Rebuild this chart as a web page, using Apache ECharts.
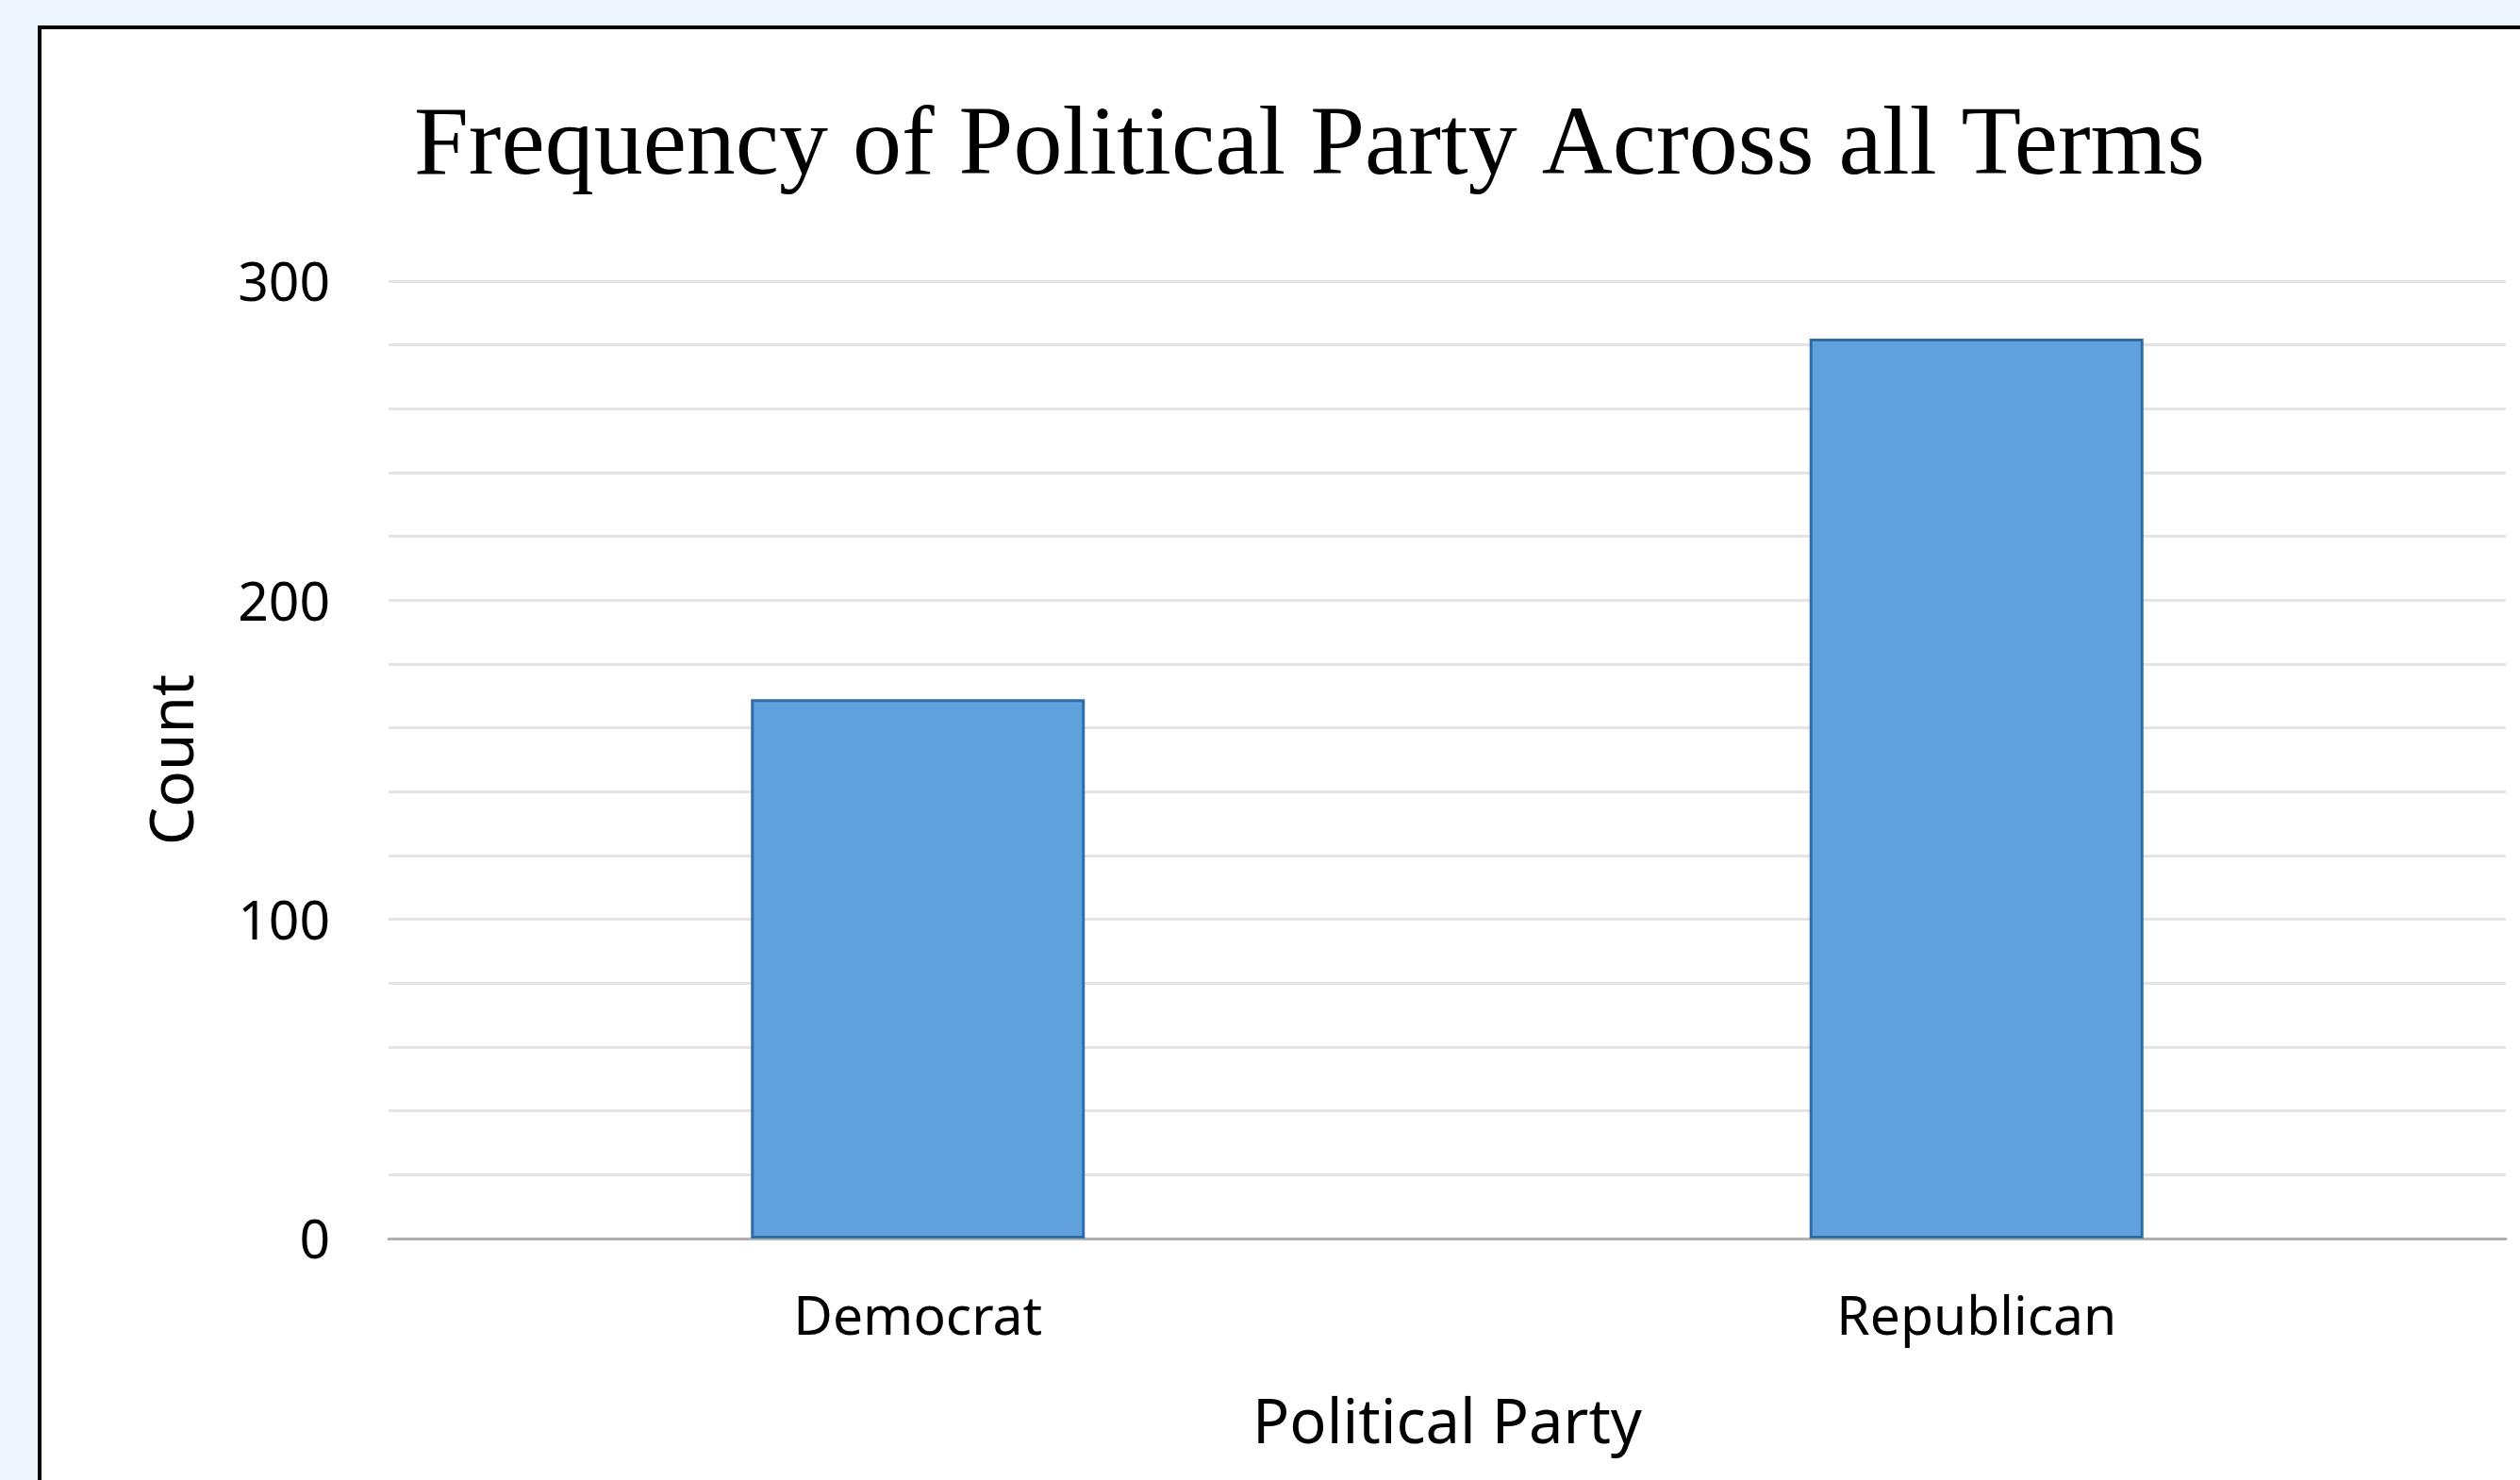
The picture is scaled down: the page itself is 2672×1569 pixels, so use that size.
<!DOCTYPE html>
<html>
<head>
<meta charset="utf-8">
<script src="https://cdn.jsdelivr.net/npm/echarts@6/dist/echarts.min.js"></script>
<style>
  html, body { margin: 0; padding: 0; width: 2672px; height: 1569px; overflow: hidden; background: #eef6fd; }
  #box { position: absolute; left: 40px; top: 27px; width: 2700px; height: 1600px; background: #ffffff; border: 4px solid #000000; box-sizing: border-box; }
  #chart { position: absolute; left: 0; top: 0; width: 2672px; height: 1569px; }
</style>
</head>
<body>
<div id="box"></div>
<div id="chart"></div>
<script>
const categories = ['Democrat', 'Republican'];
const counts = [169, 282];
const yTickLabels = ['0', '100', '200', '300'];
const titleText = 'Frequency of Political Party Across all Terms';
const xAxisTitle = 'Political Party';
const yAxisTitle = 'Count';

const chart = echarts.init(document.getElementById('chart'), null, { renderer: 'canvas' });
chart.setOption({
  backgroundColor: 'transparent',
  animation: false,
  title: {
    text: titleText,
    left: 434,
    top: 100,
    textStyle: { fontFamily: 'Liberation Serif', fontWeight: 'normal', fontSize: 104, color: '#000000' }
  },
  grid: { left: 412, right: 15, top: 298, bottom: 256, containLabel: false },
  xAxis: {
    type: 'category',
    data: categories,
    name: xAxisTitle,
    nameLocation: 'middle',
    nameGap: 166,
    nameTextStyle: { fontFamily: 'Noto Sans', fontSize: 65, color: '#000000' },
    axisLine: { show: true, lineStyle: { color: '#b0b0b0', width: 3 } },
    axisTick: { show: false },
    axisLabel: { fontFamily: 'Noto Sans', fontSize: 57, color: '#000000', margin: 57 },
    splitLine: { show: false }
  },
  yAxis: {
    type: 'value',
    min: 0,
    max: 300,
    interval: 20,
    name: yAxisTitle,
    nameLocation: 'middle',
    nameGap: 193,
    nameTextStyle: { fontFamily: 'Noto Sans', fontSize: 64, color: '#000000' },
    axisLine: { show: false },
    axisTick: { show: false },
    axisLabel: {
      fontFamily: 'Noto Sans', fontSize: 57, color: '#000000', margin: 62,
      formatter: function (v) { const s = String(v); return yTickLabels.indexOf(s) >= 0 ? '{v|' + s + '}' : ''; },
      rich: { v: { fontFamily: 'Noto Sans', fontSize: 57, color: '#000000', padding: [10, 0, 0, 0] } }
    },
    splitLine: { show: true, lineStyle: { color: '#e4e4e4', width: 3 } }
  },
  series: [{
    type: 'bar',
    data: counts,
    barWidth: 354,
    itemStyle: { color: '#5ea1db', borderColor: '#2f6ca9', borderWidth: 3 }
  }]
});
</script>
</body>
</html>
